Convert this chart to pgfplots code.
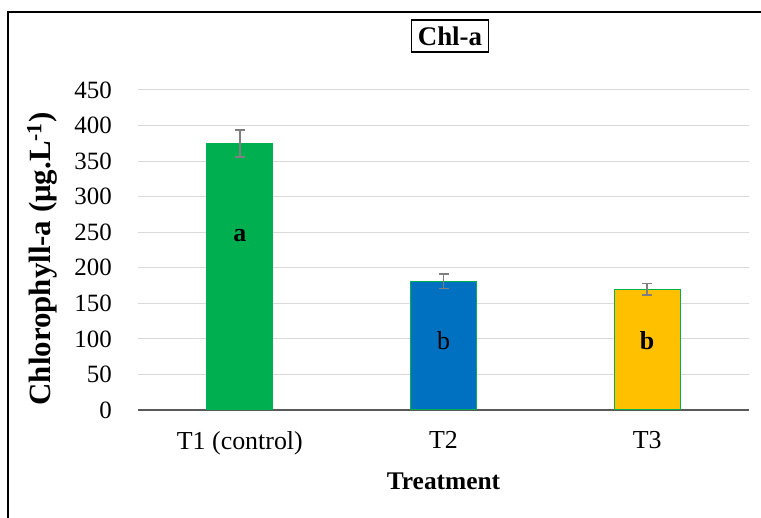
\documentclass[border=0pt]{standalone}
\usepackage{pgfplots}
\pgfplotsset{compat=1.18}
\usepackage{fontspec}
\setmainfont{Liberation Serif}
\definecolor{cgreen}{HTML}{00B050}
\definecolor{cblue}{HTML}{0070C0}
\definecolor{cgold}{HTML}{FFC000}
\definecolor{cgrid}{HTML}{D9D9D9}
\definecolor{caxis}{HTML}{595959}
\definecolor{cerr}{HTML}{7F7F7F}
\begin{document}
\begin{tikzpicture}[x=1bp,y=1bp]
\useasboundingbox (0,0) rectangle (761,518);
\draw[line width=1.5bp] (8,0) -- (8,506) -- (761,506);
\begin{axis}[
  at={(138bp,108bp)}, anchor=south west,
  scale only axis, width=611bp, height=320bp,
  xmin=-0.5, xmax=2.5, ymin=0, ymax=450,
  xtick={0,1,2}, xticklabels={T1 (control),T2,T3},
  ytick={0,50,...,450},
  /pgf/number format/assume math mode=true,
  yticklabel style={font=\fontsize{25}{28}\selectfont, anchor=east, inner sep=0pt, xshift=-26bp},
  xticklabel style={font=\fontsize{26}{29}\selectfont, anchor=north, inner sep=0pt, yshift=-21bp},
  major tick length=0pt,
  ymajorgrids, grid style={cgrid, line width=1bp},
  axis x line*=bottom, axis y line*=left,
  x axis line style={caxis, line width=1.2bp, -},
  y axis line style={draw=none},
  xlabel={\textbf{Treatment}},
  xlabel style={at={(axis description cs:0.5,-0.222)}, anchor=center, font=\fontsize{25.5}{29}\selectfont},
  ylabel={\textbf{Chlorophyll-a (μg.L\textsuperscript{-1})}},
  ylabel style={at={(axis description cs:-0.157,0.472)}, anchor=center, rotate=0, font=\fontsize{31}{34}\selectfont},
  ybar, bar width=66bp, bar shift=0pt,
  clip=false,
  error bars/y dir=both, error bars/y explicit,
  error bars/error bar style={cerr, line width=1.5bp},
  error bars/error mark options={rotate=90, mark size=5bp, cerr, line width=1.5bp},
]
\addplot[fill=cgreen, draw=cgreen, line width=1bp] coordinates {(0,375) +- (0,19)};
\addplot[fill=cblue, draw=cgreen, line width=1bp] coordinates {(1,181) +- (0,10)};
\addplot[fill=cgold, draw=cgreen, line width=1bp] coordinates {(2,170) +- (0,8)};
\node[font=\fontsize{26}{29}\selectfont\bfseries] at (axis cs:0,245) {a};
\node[font=\fontsize{26}{29}\selectfont] at (axis cs:1,97) {b};
\node[font=\fontsize{26}{29}\selectfont\bfseries] at (axis cs:2,97) {b};
\end{axis}
\node[draw, line width=1.2bp, inner xsep=6bp, inner ysep=6.5bp, font=\fontsize{27}{30}\selectfont\bfseries] at (450,482) {Chl-a};
\end{tikzpicture}
\end{document}
